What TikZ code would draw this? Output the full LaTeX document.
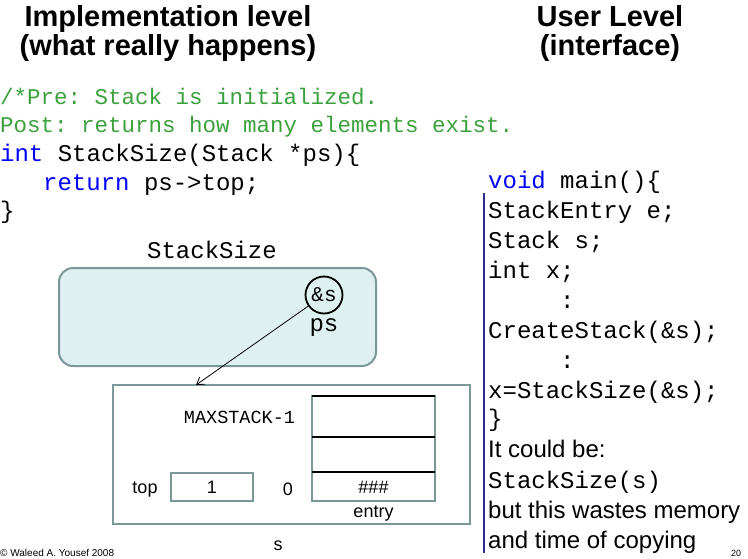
\documentclass[tikz,border=0pt]{standalone}
\usepackage{fontspec}
\setmainfont{Liberation Sans}
\setmonofont{Liberation Mono}
\usetikzlibrary{arrows.meta,positioning,calc}
\definecolor{commentgreen}{RGB}{60,160,60}
\definecolor{keyblue}{RGB}{0,0,255}
\definecolor{boxgray}{RGB}{122,152,152}
\definecolor{framefill}{RGB}{223,240,240}
\definecolor{barblue}{RGB}{45,45,140}
\tikzset{x=1pt, y=-1pt, % One unit is one pixel of the slide
        heading/.style={ % Sets the properties for the two titles
            anchor=base, inner sep=0pt,
            font=\fontsize{29}{29}\selectfont\bfseries},
        codeline/.style={ % A line of C code
            anchor=base west, inner sep=0pt,
            font=\fontsize{24}{24}\selectfont\ttfamily},
        commentline/.style={ % Green comment lines
            codeline, text=commentgreen,
            font=\fontsize{22.5}{22.5}\selectfont\ttfamily},
        plainline/.style={ % Ordinary text on the right
            anchor=base west, inner sep=0pt,
            font=\fontsize{24}{24}\selectfont},
        small/.style={ % Labels inside the stack
            anchor=base, inner sep=0pt,
            font=\fontsize{18}{18}\selectfont},
        graybox/.style={ % Boxes drawn in slide gray
            draw=boxgray, line width=2pt, inner sep=0pt},
        pointer/.style={ % The pointer arrow
            draw, -{Straight Barb[length=7pt,width=9pt]}, line width=0.8pt}
        }
\begin{document}
\begin{tikzpicture}
    \useasboundingbox (0,0) rectangle (748,558);

    % titles
    \node[heading] (impl)  at (168,26) {Implementation level};
    \node[heading] (impl2) at (168,55) {(what really happens)};
    \node[heading] (user)  at (610,26) {User Level};
    \node[heading] (user2) at (610,55) {(interface)};

    % function code
    \node[commentline] (pre)  at (0,104) {/*Pre: Stack is initialized.};
    \node[commentline] (post) at (0,132) {Post: returns how many elements exist.};
    \node[codeline] (head) at (0,161) {\textcolor{keyblue}{int} StackSize(Stack *ps)\{};
    \node[codeline] (ret)  at (43,190) {\textcolor{keyblue}{return} ps->top;};
    \node[codeline] (close) at (0,218) {\}};

    % function frame
    \node[codeline, anchor=base] (fname) at (212,258) {StackSize};
    \node[graybox, fill=framefill, rounded corners=14pt,
          minimum width=317pt, minimum height=98pt] (frame) at (217.5,317) {};
    \node[circle, draw, line width=1.8pt, minimum size=37pt, inner sep=0pt,
          font=\fontsize{21}{21}\selectfont\ttfamily] (amp) at (324,295) {\&s};
    \node[codeline, anchor=base] (ps) at (324,331) {ps};

    % the stack s
    \node[graybox, minimum width=357pt, minimum height=139pt] (sbox) at (291.5,454.5) {};
    \node[graybox, line width=1.5pt, minimum width=123pt, minimum height=105pt] (entry) at (373.5,448.5) {};
    \draw[line width=1.2pt] (312,396) -- (435,396);
    \draw[line width=1.2pt] (312,437) -- (435,437);
    \draw[line width=1.2pt] (312,472) -- (435,472);
    \node[small, font=\fontsize{18.5}{18.5}\selectfont\ttfamily] (maxl) at (239.5,423) {MAXSTACK-1};
    \node[small] (hash) at (373.5,493) {\#\#\#};
    \node[small] (entl) at (373.5,517) {entry};
    \node[small] (zero) at (288,495) {0};
    \node[small] (topl) at (145,493) {top};
    \node[graybox, line width=1.5pt, minimum width=82pt, minimum height=28pt,
          font=\fontsize{18}{18}\selectfont] (topbox) at (212,487) {1};
    \node[small] (sname) at (278,550) {s};

    \coordinate (sTip) at (196,385);
    \draw[pointer] (amp) -- (sTip);

    % main program
    \draw[barblue, line width=2.5pt] (484,193) -- (484,553);
    \node[codeline] (m1)  at (488,188) {\textcolor{keyblue}{void} main()\{};
    \node[codeline] (m2)  at (488,218) {StackEntry e;};
    \node[codeline] (m3)  at (488,248) {Stack s;};
    \node[codeline] (m4)  at (488,278) {int x;};
    \node[codeline] (m5)  at (560,308) {:};
    \node[codeline] (m6)  at (488,338) {CreateStack(\&s);};
    \node[codeline] (m7)  at (560,368) {:};
    \node[codeline] (m8)  at (488,398) {x=StackSize(\&s);};
    \node[codeline] (m9)  at (488,426) {\}};
    \node[plainline] (m10) at (488,457) {It could be:};
    \node[codeline] (m11) at (488,488) {StackSize(s)};
    \node[plainline] (m12) at (488,518) {but this wastes memory};
    \node[plainline] (m13) at (488,548) {and time of copying};

    % footer
    \node[anchor=base west, inner sep=0pt, font=\fontsize{10}{10}\selectfont] (copy) at (0,556) {© Waleed A. Yousef 2008};
    \node[anchor=base west, inner sep=0pt, font=\fontsize{9}{9}\selectfont] (page) at (731,556) {20};
\end{tikzpicture}
\end{document}
